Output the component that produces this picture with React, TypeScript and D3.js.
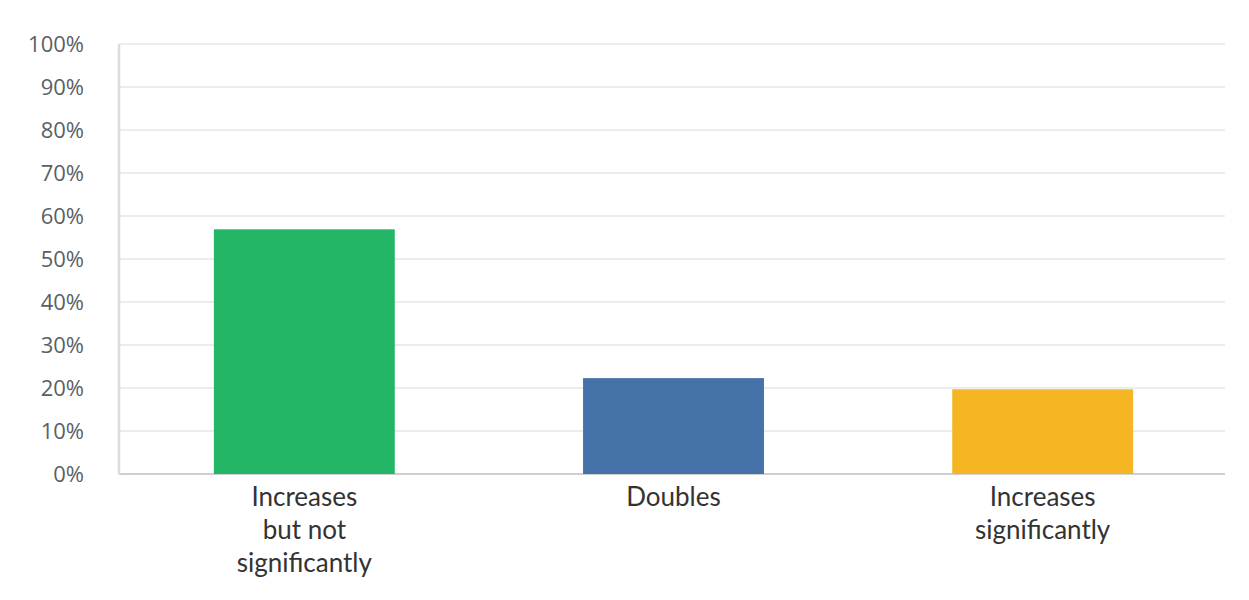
import * as React from "react"
import * as d3 from "d3"

const categories = ["Increases but not significantly", "Doubles", "Increases significantly"]
const labelLines = [["Increases", "but not", "significantly"], ["Doubles"], ["Increases", "significantly"]]
const values = [56.9, 22.3, 19.7]
const colors = ["#23b666", "#4572a8", "#f6b624"]
const yTicks = [0, 10, 20, 30, 40, 50, 60, 70, 80, 90, 100]

const width = 1249
const height = 600
const margin = { top: 44, right: 24, bottom: 126, left: 119 }

export default function App() {
  const x = d3.scaleBand<string>()
    .domain(categories)
    .range([margin.left, 1228])
    .paddingInner(0.51)
    .paddingOuter(0.257)

  const y = d3.scaleLinear()
    .domain([0, 100])
    .range([height - margin.bottom, margin.top])

  return (
    <svg width={width} height={height} style={{ position: "absolute", left: 0, top: 0, background: "#fff" }}>
      <g>
        {yTicks.map(t => (
          <g key={t}>
            <line x1={margin.left} x2={width - margin.right} y1={y(t)} y2={y(t)}
              stroke={t === 0 ? "#cfcfcf" : "#ececec"} strokeWidth={2} />
            <text x={84} y={y(t)} dy="0.36em" textAnchor="end"
              fontFamily="'Open Sans', sans-serif" fontSize={22} fontWeight={500} fill="#5b5f64">{t}%</text>
          </g>
        ))}
        <line x1={margin.left} x2={margin.left} y1={y(100)} y2={y(0)} stroke="#dcdcdc" strokeWidth={2.5} />
      </g>
      <g>
        {categories.map((c, i) => (
          <rect key={c} x={x(c)} y={y(values[i])} width={x.bandwidth()}
            height={y(0) - y(values[i])} fill={colors[i]} />
        ))}
      </g>
      <g>
        {categories.map((c, i) => (
          <text key={c} x={(x(c) ?? 0) + x.bandwidth() / 2} y={506} textAnchor="middle"
            fontFamily="Lato, sans-serif" fontSize={26} fill="#333">
            {labelLines[i].map((l, j) => (
              <tspan key={j} x={(x(c) ?? 0) + x.bandwidth() / 2} dy={j === 0 ? 0 : 33}>{l}</tspan>
            ))}
          </text>
        ))}
      </g>
    </svg>
  )
}
